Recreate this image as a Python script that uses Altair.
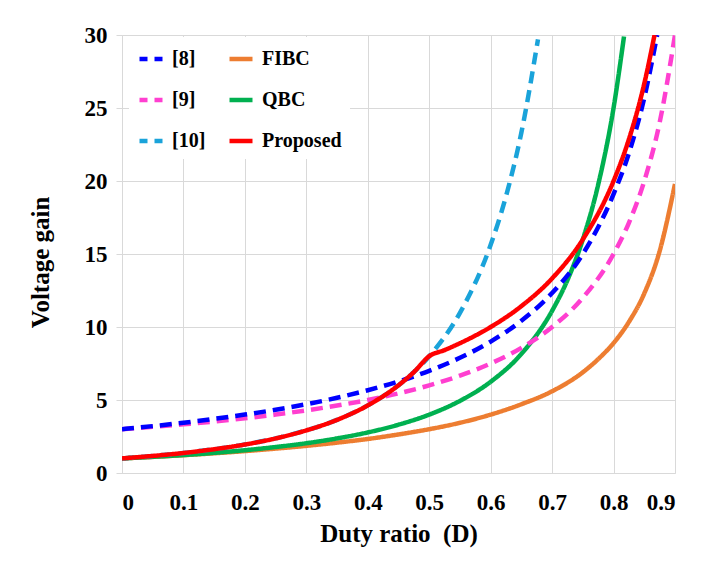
import altair as alt
import pandas as pd

# ---- data ----
D_8 = [0, 0.05, 0.1, 0.15, 0.2, 0.25, 0.3, 0.35, 0.4, 0.45, 0.5, 0.55, 0.6, 0.65, 0.7,
       0.75, 0.8, 0.825, 0.85, 0.871]
G_8 = [3.0, 3.21, 3.44, 3.71, 4.0, 4.33, 4.71, 5.15, 5.67, 6.27, 7.0, 7.89, 9.0, 10.43, 12.33,
       15.0, 19.1, 21.9, 25.7, 30.0]

D_9 = [0, 0.05, 0.1, 0.15, 0.2, 0.25, 0.3, 0.35, 0.4, 0.45, 0.5, 0.55, 0.6, 0.65, 0.7,
       0.75, 0.8, 0.825, 0.85, 0.875, 0.9]
G_9 = [3.0, 3.16, 3.33, 3.53, 3.75, 4.0, 4.29, 4.62, 5.0, 5.45, 6.0, 6.67, 7.5, 8.57, 10.0,
       12.0, 15.0, 17.14, 20.0, 24.0, 30.0]

D_10 = [0, 0.05, 0.1, 0.15, 0.2, 0.25, 0.3, 0.35, 0.4, 0.45, 0.5, 0.55, 0.6, 0.625, 0.65,
        0.677]
G_10 = [1.0, 1.17, 1.37, 1.63, 1.95, 2.37, 2.92, 3.64, 4.63, 6.01, 8.0, 10.97, 15.63, 18.96,
        23.32, 29.7]

D_FIBC = [0, 0.05, 0.1, 0.15, 0.2, 0.25, 0.3, 0.35, 0.4, 0.45, 0.5, 0.55, 0.6, 0.65, 0.7,
          0.75, 0.775, 0.8, 0.825, 0.85, 0.875, 0.9]
G_FIBC = [1.0, 1.1, 1.22, 1.35, 1.5, 1.67, 1.86, 2.08, 2.33, 2.64, 3.0, 3.44, 4.0, 4.71, 5.6,
          6.9, 7.8, 8.9, 10.35, 12.3, 15.2, 19.8]

D_QBC = [0, 0.05, 0.1, 0.15, 0.2, 0.25, 0.3, 0.35, 0.4, 0.45, 0.5, 0.55, 0.6, 0.65, 0.7,
         0.725, 0.75, 0.775, 0.8, 0.817]
G_QBC = [1.0, 1.11, 1.23, 1.38, 1.56, 1.78, 2.04, 2.37, 2.78, 3.31, 4.0, 4.94, 6.25, 8.16, 11.11,
         13.22, 16.0, 19.75, 25.0, 29.9]

D_PROP = [0, 0.05, 0.1, 0.15, 0.2, 0.25, 0.3, 0.35, 0.4, 0.45, 0.475, 0.5, 0.525, 0.55, 0.6,
          0.65, 0.7, 0.75, 0.8, 0.825, 0.85, 0.8667]
G_PROP = [1.0, 1.17, 1.37, 1.63, 1.95, 2.37, 2.92, 3.64, 4.63, 6.01, 6.91, 8.0, 8.42, 8.89, 10.0,
          11.43, 13.33, 16.0, 20.0, 22.86, 26.67, 30.0]

LEGEND_ORDER = ["[8]", "[9]", "[10]", "FIBC", "QBC", "Proposed"]
COLORS = ["#0000FF", "#FF3FD0", "#1AA3DA", "#ED7D31", "#00B050", "#FF0000"]
DASHES = [[12, 7], [12, 7], [12, 7], [1, 0], [1, 0], [1, 0]]

X_TICKS = [0, 0.1, 0.2, 0.3, 0.4, 0.5, 0.6, 0.7, 0.8, 0.9]
Y_TICKS = [0, 5, 10, 15, 20, 25, 30]

series = {
    "[8]": (D_8, G_8),
    "[9]": (D_9, G_9),
    "[10]": (D_10, G_10),
    "FIBC": (D_FIBC, G_FIBC),
    "QBC": (D_QBC, G_QBC),
    "Proposed": (D_PROP, G_PROP),
}

rows = []
for name, (ds, gs) in series.items():
    for d, g in zip(ds, gs):
        rows.append({"series": name, "D": d, "gain": g})
df = pd.DataFrame(rows)

FONT = "Liberation Serif"

x_enc = alt.X(
    "D:Q",
    scale=alt.Scale(domain=[0, 0.9], nice=False, zero=False),
    axis=alt.Axis(
        values=X_TICKS, format="~g", title="Duty ratio \u00a0(D)",
        ticks=False, labelPadding=18, titleY=48, titleBaseline="top",
    ),
)
y_enc = alt.Y(
    "gain:Q",
    scale=alt.Scale(domain=[0, 30], nice=False),
    axis=alt.Axis(
        values=Y_TICKS, title="Voltage gain", tickSize=6, labelPadding=9,
        titleX=-69, titleY=227, titleAngle=270, titleBaseline="bottom",
        titleAlign="center",
    ),
)
color_enc = alt.Color(
    "series:N",
    scale=alt.Scale(domain=LEGEND_ORDER, range=COLORS),
    legend=alt.Legend(
        title=None, orient="none", legendX=7, legendY=2, columns=2,
        columnPadding=14, rowPadding=17, padding=8, fillColor="white",
        symbolType="stroke", symbolSize=529, symbolStrokeWidth=4.5,
        symbolDashOffset=4, labelFont=FONT, labelFontSize=20,
        labelFontWeight="bold", labelColor="black", labelOffset=7,
    ),
)
dash_enc = alt.StrokeDash(
    "series:N",
    scale=alt.Scale(domain=LEGEND_ORDER, range=DASHES),
    legend=None,
)

draw_order = ["FIBC", "QBC", "[9]", "[8]", "[10]", "Proposed"]
layers = []
for name in draw_order:
    layers.append(
        alt.Chart(df)
        .transform_filter(alt.datum.series == name)
        .mark_line(strokeWidth=4.5, interpolate="monotone", clip=True, strokeCap="butt")
        .encode(x=x_enc, y=y_enc, color=color_enc, strokeDash=dash_enc)
    )

chart = (
    alt.layer(*layers)
    .properties(
        width=553, height=438,
        autosize=alt.AutoSizeParams(type="none"),
        padding={"left": 114, "top": 27, "right": 30, "bottom": 100},
    )
    .configure_view(strokeWidth=0)
    .configure_axis(
        grid=True, gridColor="#d9d9d9", gridWidth=1,
        domainColor="#d9d9d9", tickColor="#d9d9d9",
        labelFont=FONT, labelFontSize=23, labelFontWeight="bold", labelColor="black",
        titleFont=FONT, titleFontSize=25, titleFontWeight="bold", titleColor="black",
    )
)

chart.save("out.html", embed_options={"renderer": "svg", "actions": False})
